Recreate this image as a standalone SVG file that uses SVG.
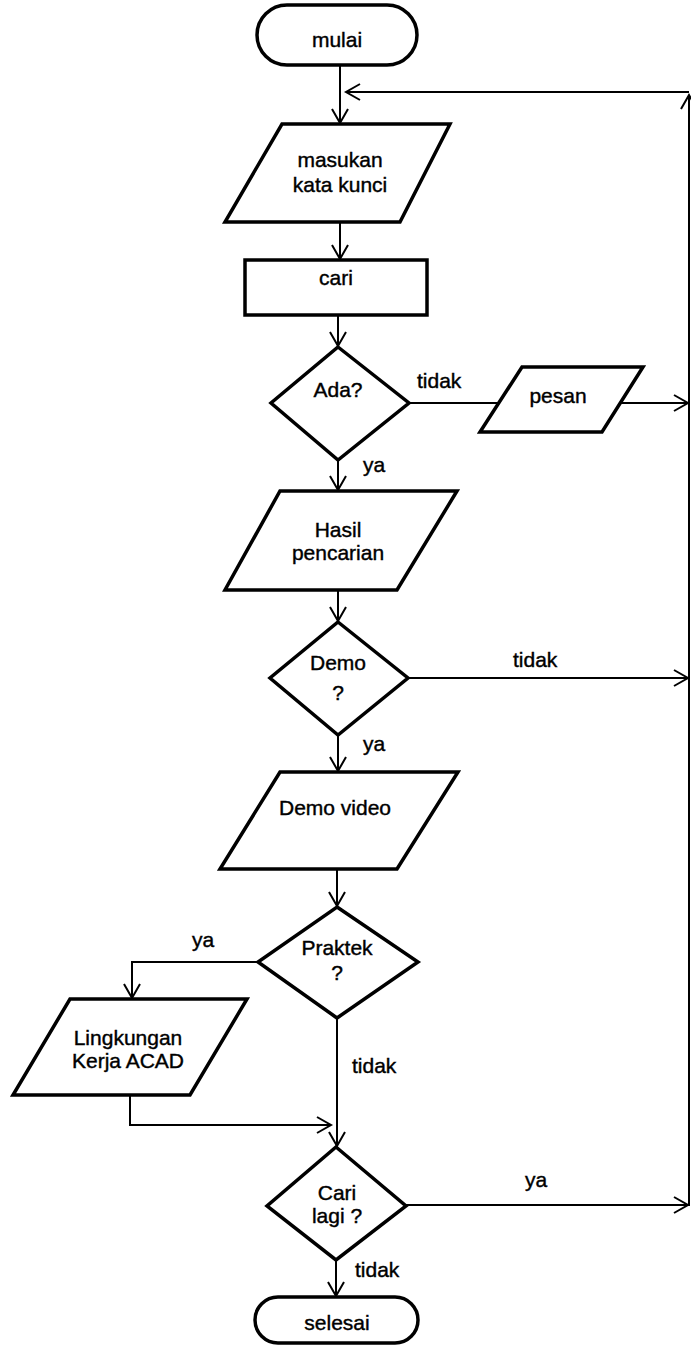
<svg xmlns="http://www.w3.org/2000/svg" width="691" height="1345" viewBox="0 0 691 1345">
  <style>
    .shape { fill: #fff; stroke: #000; stroke-width: 3.5; stroke-linejoin: miter; }
    .conn { fill: none; stroke: #000; stroke-width: 2; }
    .txt { font-family: "Liberation Sans", Arial, sans-serif; font-size: 21px; fill: #000; stroke: #000; stroke-width: 0.4; text-anchor: middle; }
    .lbl { font-family: "Liberation Sans", Arial, sans-serif; font-size: 21px; fill: #000; stroke: #000; stroke-width: 0.4; }
  </style>
  <defs>
    <marker id="arr" markerUnits="userSpaceOnUse" markerWidth="20" markerHeight="20" viewBox="-15 -10 20 20" refX="0" refY="0" orient="auto" overflow="visible">
      <path d="M-14,-8 L0,0 L-14,8" fill="none" stroke="#000" stroke-width="2"/>
    </marker>
  </defs>
  <rect width="691" height="1345" fill="#fff"/>

  <!-- connectors -->
  <g id="connectors">
    <path class="conn" d="M340,65 V123" marker-end="url(#arr)"/>
    <path class="conn" d="M689,1206 V95" marker-end="url(#arr)"/>
    <path class="conn" d="M689,92 H346" marker-end="url(#arr)"/>
    <path class="conn" d="M340,222 V259" marker-end="url(#arr)"/>
    <path class="conn" d="M338,315 V346" marker-end="url(#arr)"/>
    <path class="conn" d="M409,403 H499"/>
    <path class="conn" d="M620,403 H688" marker-end="url(#arr)"/>
    <path class="conn" d="M338,460 V490" marker-end="url(#arr)"/>
    <path class="conn" d="M338,590 V621" marker-end="url(#arr)"/>
    <path class="conn" d="M408,678 H688" marker-end="url(#arr)"/>
    <path class="conn" d="M338,735 V771" marker-end="url(#arr)"/>
    <path class="conn" d="M337,869 V906" marker-end="url(#arr)"/>
    <path class="conn" d="M258,962 H132 V998" marker-end="url(#arr)"/>
    <path class="conn" d="M337,1018 V1146" marker-end="url(#arr)"/>
    <path class="conn" d="M130,1095 V1125 H331" marker-end="url(#arr)"/>
    <path class="conn" d="M406,1205 H688" marker-end="url(#arr)"/>
    <path class="conn" d="M336,1260 V1296" marker-end="url(#arr)"/>
  </g>

  <!-- edge labels -->
  <g id="labels">
    <text class="lbl" x="417" y="388">tidak</text>
    <text class="lbl" x="363" y="472">ya</text>
    <text class="lbl" x="513" y="667">tidak</text>
    <text class="lbl" x="363" y="751">ya</text>
    <text class="lbl" x="192" y="947">ya</text>
    <text class="lbl" x="352" y="1073">tidak</text>
    <text class="lbl" x="525" y="1187">ya</text>
    <text class="lbl" x="355" y="1277">tidak</text>
  </g>

  <g id="mulai">
    <rect class="shape" x="257" y="5" width="160" height="60" rx="30" ry="30"/>
    <text class="txt" x="337" y="47">mulai</text>
  </g>

  <g id="masukan">
    <polygon class="shape" points="282,124 450,124 400,222 225,222"/>
    <text class="txt" x="340" y="167">masukan</text>
    <text class="txt" x="340" y="192">kata kunci</text>
  </g>

  <g id="cari">
    <rect class="shape" x="245" y="260" width="182" height="55"/>
    <text class="txt" x="336" y="285">cari</text>
  </g>

  <g id="ada">
    <polygon class="shape" points="338,347 409,403 338,460 271,403"/>
    <text class="txt" x="338" y="397">Ada?</text>
  </g>

  <g id="pesan">
    <polygon class="shape" points="522,367 643,367 602,432 480,432"/>
    <text class="txt" x="558" y="403">pesan</text>
  </g>

  <g id="hasil">
    <polygon class="shape" points="280,491 457,491 397,590 225,590"/>
    <text class="txt" x="338" y="537">Hasil</text>
    <text class="txt" x="338" y="560">pencarian</text>
  </g>

  <g id="demo">
    <polygon class="shape" points="338,622 408,678 338,735 270,678"/>
    <text class="txt" x="338" y="670">Demo</text>
    <text class="txt" x="338" y="700">?</text>
  </g>

  <g id="demo-video">
    <polygon class="shape" points="280,772 458,772 397,869 220,869"/>
    <text class="txt" x="335" y="815">Demo video</text>
  </g>

  <g id="praktek">
    <polygon class="shape" points="337,907 418,962 337,1018 258,962"/>
    <text class="txt" x="337" y="955">Praktek</text>
    <text class="txt" x="337" y="980">?</text>
  </g>

  <g id="lingkungan">
    <polygon class="shape" points="70,999 247,999 190,1095 13,1095"/>
    <text class="txt" x="128" y="1045">Lingkungan</text>
    <text class="txt" x="128" y="1068">Kerja ACAD</text>
  </g>

  <g id="cari-lagi">
    <polygon class="shape" points="336,1147 406,1206 336,1260 267,1206"/>
    <text class="txt" x="337" y="1200">Cari</text>
    <text class="txt" x="337" y="1223">lagi ?</text>
  </g>

  <g id="selesai">
    <rect class="shape" x="255" y="1297" width="163" height="46" rx="23" ry="23"/>
    <text class="txt" x="337" y="1330">selesai</text>
  </g>
</svg>
